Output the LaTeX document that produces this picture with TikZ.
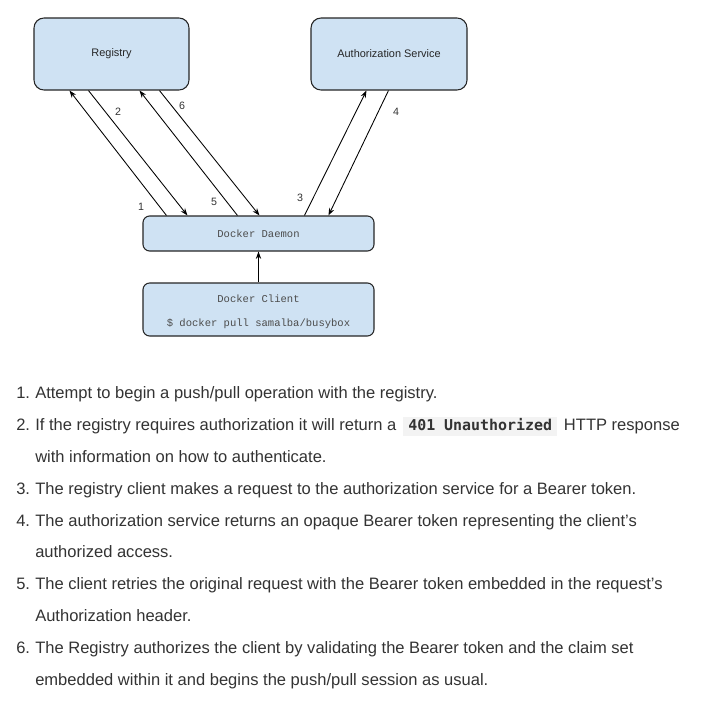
\documentclass[tikz,border=0pt]{standalone}
\usepackage{fontspec}
\setmainfont{Liberation Sans}
\newfontfamily\boxmono{Liberation Mono}
\newfontfamily\codemono{DejaVu Sans Mono}
\usetikzlibrary{arrows.meta,calc}
\definecolor{boxfill}{HTML}{CFE2F3}
\definecolor{txt}{HTML}{333333}
\definecolor{codebg}{HTML}{F3F3F3}
\begin{document}
\begin{tikzpicture}[x=0.75pt,y=-0.75pt,
  box/.style={draw=black!85, line width=0.8pt, fill=boxfill, rounded corners=7.5pt, inner sep=0pt, font=\fontsize{8.2}{10}\selectfont, text=black!85},
  monobox/.style={box, rounded corners=5pt, font=\boxmono\fontsize{7.9}{10}\selectfont, text=black!70},
  conn/.style={line width=0.65pt, -{Stealth[length=5.5pt,width=4pt]}},
  num/.style={font=\fontsize{8}{9}\selectfont, text=txt, inner sep=0pt},
  li/.style={anchor=base west, inner sep=0pt, font=\fontsize{12.4}{14}\selectfont, text=txt},
  code/.style={anchor=base west, inner xsep=4pt, inner ysep=0pt, text height=10pt, text depth=3.8pt, fill=codebg, font=\codemono\bfseries\fontsize{11.2}{13}\selectfont, text=txt}
]
\useasboundingbox (0,0) rectangle (727,711);
\fill[white] (0,0) rectangle (727,711);

% boxes
\node[box, minimum width=116.25pt, minimum height=54pt] (reg) at (111.5,54) {\raisebox{-1.5pt}{Registry}};
\node[box, minimum width=117pt, minimum height=54pt] (auth) at (389,54) {\raisebox{-1.5pt}{Authorization Service}};
\node[monobox, minimum width=173.25pt, minimum height=26.25pt] (dmn) at (258.5,233.5) {\raisebox{-1pt}{Docker Daemon}};
\node[monobox, minimum width=173.25pt, minimum height=39.75pt] (cli) at (258.5,309.5) {};
\node[font=\boxmono\fontsize{7.9}{10}\selectfont, text=black!70, inner sep=0pt] (clit) at (258.5,298.5) {Docker Client};
\node[font=\boxmono\fontsize{7.9}{10}\selectfont, text=black!70, inner sep=0pt] (clic) at (258.5,323.5) {\$ docker pull samalba/busybox};

% connectors
\draw[conn] ($(dmn.north west)+(24,0)$) -- ($(reg.south west)+(36,0)$);
\draw[conn] ($(reg.south west)+(55,0)$) -- ($(dmn.north west)+(45,0)$);
\draw[conn] ($(dmn.north west)+(95,0)$) -- ($(reg.south west)+(106,0)$);
\draw[conn] ($(reg.south west)+(126,0)$) -- ($(dmn.north west)+(117,0)$);
\draw[conn] ($(dmn.north west)+(162,0)$) -- ($(auth.south west)+(56,0)$);
\draw[conn] ($(auth.south west)+(78,0)$) -- ($(dmn.north west)+(186,0)$);
\draw[conn] (cli.north) -- (dmn.south);

% connector labels
\node[num] (n1) at (141,207) {1};
\node[num] (n2) at (118,112) {2};
\node[num] (n3) at (300,198) {3};
\node[num] (n4) at (396,112) {4};
\node[num] (n5) at (214,202) {5};
\node[num] (n6) at (182,106) {6};

% list
\node[li] (l1n) at (16,398.5) {1.};
\node[li] (l1) at (35,398.5) {Attempt to begin a push/pull operation with the registry.};
\node[li] (l2n) at (16,430.5) {2.};
\node[li] (l2) at (35,430.5) {If the registry requires authorization it will return a};
\node[code] (l2c) at ($(l2.base east)+(6,0)$) {401 Unauthorized};
\node[li] (l2b) at ($(l2c.base east)+(6,0)$) {HTTP response};
\node[li] (l2x) at (35,462.5) {with information on how to authenticate.};
\node[li] (l3n) at (16,494.5) {3.};
\node[li] (l3) at (35,494.5) {The registry client makes a request to the authorization service for a Bearer token.};
\node[li] (l4n) at (16,526.5) {4.};
\node[li] (l4) at (35,526.5) {The authorization service returns an opaque Bearer token representing the client’s};
\node[li] (l4x) at (35,557.5) {authorized access.};
\node[li] (l5n) at (16,589.5) {5.};
\node[li] (l5) at (35,589.5) {The client retries the original request with the Bearer token embedded in the request’s};
\node[li] (l5x) at (35,621.5) {Authorization header.};
\node[li] (l6n) at (16,653.5) {6.};
\node[li] (l6) at (35,653.5) {The Registry authorizes the client by validating the Bearer token and the claim set};
\node[li] (l6x) at (35,685.5) {embedded within it and begins the push/pull session as usual.};
\end{tikzpicture}
\end{document}
